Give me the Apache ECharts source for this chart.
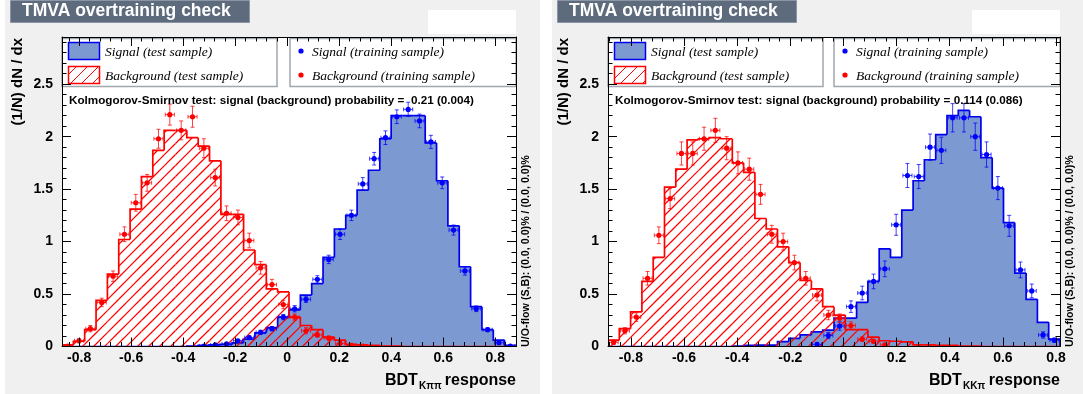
<!DOCTYPE html>
<html><head><meta charset="utf-8">
<script src="https://cdn.jsdelivr.net/npm/echarts@6/dist/echarts.min.js"></script>
<style>html,body{margin:0;padding:0;background:#fff}#c{width:1083px;height:394px}</style>
</head><body><div id="c"></div>
<script>
// ================= DATA =================
const N = null;
const NBINS = 40;
const xRangeL = [-0.866, 0.880];
const xRangeR = [-0.886, 0.815];
const yRange = [0, 2.95];
const xTickLabels = [-0.8, -0.6, -0.4, -0.2, 0, 0.2, 0.4, 0.6, 0.8];
const yTickLabels = [0, 0.5, 1, 1.5, 2, 2.5];
const xMinorStep = 0.04;
const yMinorStep = 0.1;

// Left panel (BDT_Kpipi)
const sigTestL = [0,0,0,0,0,0,0,0,0,0, 0,0.005,0.01,0.015,0.02,0.035,0.07,0.13,0.18,0.28,
  0.35,0.49,0.60,0.85,1.12,1.25,1.49,1.68,1.98,2.20, 2.20,2.20,1.94,1.58,1.15,0.76,0.38,0.16,0.06,0.01];
const bkgTestL = [0.015,0.05,0.16,0.44,0.69,1.02,1.31,1.62,1.87,2.06, 2.06,1.99,1.91,1.77,1.26,1.26,0.92,0.78,0.55,0.52,
  0.28,0.20,0.16,0.09,0.06,0.02,0.015,0.01,0.005,0.003, 0,0,0,0,0,0,0,0,0,0];
const sigTrainL = [N,N,N,N,N,N,N,N,N,N, N,N,0.003,0.015,0.025,0.055,0.085,0.135,0.17,0.28,
  0.36,0.45,0.64,0.83,1.07,1.25,1.55,1.79,1.99,2.19, 2.26,2.15,1.95,1.56,1.11,0.72,0.36,0.16,0.036,0.003];
const sigTrainErrL = [N,N,N,N,N,N,N,N,N,N, N,N,0.005,0.005,0.01,0.01,0.015,0.02,0.02,0.025,
  0.03,0.03,0.035,0.04,0.05,0.05,0.06,0.06,0.065,0.065, 0.068,0.065,0.063,0.056,0.048,0.04,0.027,0.018,0.01,0.005];
const bkgTrainL = [0.005,0.055,0.17,0.42,0.67,1.07,1.37,1.56,1.98,2.21, 2.06,2.19,1.89,1.61,1.27,1.23,1.01,0.75,0.59,0.40,
  0.28,0.15,0.11,0.08,0.03,0.01,0.004,N,N,N, N,N,N,N,N,N,N,N,N,N];
const bkgTrainErrL = [0.005,0.02,0.03,0.04,0.05,0.07,0.08,0.08,0.09,0.10, 0.09,0.10,0.09,0.08,0.07,0.07,0.07,0.06,0.05,0.04,
  0.03,0.03,0.02,0.02,0.01,0.01,0.005,N,N,N, N,N,N,N,N,N,N,N,N,N];

// Right panel (BDT_KKpi)
const sigTestR = [0,0,0,0,0,0,0,0,0,0, 0,0.005,0.012,0.014,0.014,0.046,0.078,0.11,0.14,0.157,
  0.27,0.27,0.42,0.62,0.93,0.85,1.30,1.58,1.78,2.02, 2.20,2.25,2.19,1.80,1.51,1.18,0.70,0.45,0.23,0.07];
const bkgTestR = [0.06,0.17,0.33,0.62,0.85,1.52,1.69,1.97,1.98,1.99, 1.98,1.75,1.66,1.22,1.12,0.95,0.80,0.63,0.55,0.38,
  0.30,0.16,0.16,0.09,0.055,0.05,0.045,0.015,0.015,0.01, 0.01,0.005,0.005,0,0,0,0,0,0,0];
const sigTrainR = [N,N,N,N,N,N,N,N,N,N, N,N,N,N,N,N,N,N,0.02,0.105,
  0.195,0.38,0.51,0.62,0.74,1.16,1.63,1.62,1.90,1.87, 2.18,2.18,2.00,1.83,1.51,1.15,0.73,0.53,0.11,0.06];
const sigTrainErrR = [N,N,N,N,N,N,N,N,N,N, N,N,N,N,N,N,N,N,0.015,0.03,
  0.04,0.055,0.065,0.07,0.075,0.10,0.115,0.115,0.125,0.125, 0.135,0.135,0.13,0.12,0.11,0.10,0.075,0.065,0.03,0.02];
const bkgTrainR = [0.04,0.15,0.28,0.65,1.06,1.41,1.84,1.84,1.98,2.06, 1.89,1.75,1.69,1.45,1.07,1.00,0.80,0.65,0.49,0.30,
  0.27,0.20,0.07,0.05,0.015,N,N,N,N,N, N,N,N,N,N,N,N,N,N,N];
const bkgTrainErrR = [0.02,0.03,0.04,0.065,0.08,0.095,0.11,0.11,0.11,0.115, 0.11,0.105,0.105,0.095,0.085,0.08,0.07,0.065,0.055,0.045,
  0.04,0.035,0.02,0.02,0.01,N,N,N,N,N, N,N,N,N,N,N,N,N,N,N];

const ksTextL = 'Kolmogorov-Smirnov test: signal (background) probability =  0.21 (0.004)';
const ksTextR = 'Kolmogorov-Smirnov test: signal (background) probability = 0.114 (0.086)';
const subL = 'K\u03c0\u03c0';
const subR = 'KK\u03c0';
const titleText = 'TMVA overtraining check';
const yTitle = '(1/N) dN / dx';
const uoText = 'U/O-flow (S,B): (0.0, 0.0)% / (0.0, 0.0)%';
const legendLabels = ['Signal (test sample)', 'Background (test sample)', 'Signal (training sample)', 'Background (training sample)'];

// ================= STYLE =================
const SIG_FILL = '#7d99d1', SIG_LINE = '#0000ee', SIG_MARK = '#0000ff';
const BKG_LINE = '#ff0000', BKG_MARK = '#ff0000';
const SANS = 'Liberation Sans, Arial, sans-serif';
const SERIF = 'Liberation Serif, Times New Roman, serif';
const HATCH = 11; // hatch spacing (px)

function makeHatch() {
  const s = HATCH;
  const c = document.createElement('canvas'); c.width = s; c.height = s;
  const ctx = c.getContext('2d');
  ctx.fillStyle = '#ff0000';
  for (let i = 0; i < s; i++) ctx.fillRect(i, s - 1 - i, 1, 1);
  return c;
}
const hatchPattern = { image: makeHatch(), repeat: 'repeat' };

// diagonal hatch line segments ("/") inside a pixel rectangle, on a global lattice x+y = n*HATCH
function hatchLines(xl, xr, yt, yb) {
  const out = [];
  const c0 = Math.ceil((xl + yt) / HATCH) * HATCH;
  for (let c = c0; c <= xr + yb; c += HATCH) {
    const x1 = Math.max(xl, c - yb), x2 = Math.min(xr, c - yt);
    if (x2 - x1 < 0.3) continue;
    out.push({ type: 'line', shape: { x1: x1, y1: c - x1, x2: x2, y2: c - x2 }, style: { stroke: '#ff0000', lineWidth: 1.25, opacity: 1 } });
  }
  return out;
}

function stepsFrom(min, max, step) {
  const out = [];
  for (let i = Math.ceil(min / step - 1e-9); i <= Math.floor(max / step + 1e-9); i++) out.push(+(i * step).toFixed(4));
  return out;
}

// ================= LAYOUT =================
const panels = [
  { range: xRangeL, left: 62, width: 454, sigTest: sigTestL, bkgTest: bkgTestL, sigTrain: sigTrainL, sigErr: sigTrainErrL, bkgTrain: bkgTrainL, bkgErr: bkgTrainErrL, ks: ksTextL, sub: subL, bg: [5, 535], title: 10 },
  { range: xRangeR, left: 608, width: 452, sigTest: sigTestR, bkgTest: bkgTestR, sigTrain: sigTrainR, sigErr: sigTrainErrR, bkgTrain: bkgTrainR, bkgErr: bkgTrainErrR, ks: ksTextR, sub: subR, bg: [552, 531], title: 557 }
];
const TOP = 37, H = 309.5;

const grid = [], xAxis = [], yAxis = [], series = [], graphic = [];

panels.forEach((p, g) => {
  grid.push({ left: p.left, top: TOP, width: p.width, height: H, show: true, backgroundColor: '#ffffff', borderWidth: 0, z: 0 });
  const xMinor = stepsFrom(p.range[0], p.range[1], xMinorStep);
  const yMinor = stepsFrom(yRange[0], yRange[1], yMinorStep);
  const xa = (pos, vals, len, line, labels) => ({
    type: 'value', gridIndex: g, min: p.range[0], max: p.range[1], position: pos, z: 10,
    axisLine: { show: line, onZero: false, lineStyle: { color: '#000', width: 1 } },
    axisTick: { show: true, inside: true, length: len, customValues: vals, lineStyle: { color: '#000', width: 1 } },
    axisLabel: labels ? { show: true, customValues: xTickLabels, margin: 5, color: '#000', fontFamily: SANS, fontWeight: 'bold', fontSize: 14 } : { show: false },
    splitLine: { show: false }, minorTick: { show: false }
  });
  const ya = (pos, vals, len, line, labels) => ({
    type: 'value', gridIndex: g, min: yRange[0], max: yRange[1], position: pos, z: 10,
    axisLine: { show: line, onZero: false, lineStyle: { color: '#000', width: 1 } },
    axisTick: { show: true, inside: true, length: len, customValues: vals, lineStyle: { color: '#000', width: 1 } },
    axisLabel: labels ? { show: true, customValues: yTickLabels, margin: 9, color: '#000', fontFamily: SANS, fontWeight: 'bold', fontSize: 14 } : { show: false },
    splitLine: { show: false }, minorTick: { show: false }
  });
  xAxis.push(xa('bottom', xTickLabels, 9, true, true), xa('bottom', xMinor, 4.5, false, false),
             xa('top', xTickLabels, 9, true, false), xa('top', xMinor, 4.5, false, false));
  yAxis.push(ya('left', yTickLabels, 9, true, true), ya('left', yMinor, 4.5, false, false),
             ya('right', yTickLabels, 9, true, false), ya('right', yMinor, 4.5, false, false));

  const ax = g * 4;
  const bw = (p.range[1] - p.range[0]) / NBINS;
  const hist = (vals, fill, stroke, z, hatched) => ({
    type: 'custom', xAxisIndex: ax, yAxisIndex: ax, clip: true, z: z, silent: true,
    data: vals.map((v, k) => [k, v, k > 0 ? vals[k - 1] : 0]),
    renderItem: (params, api) => {
      const k = api.value(0), v = api.value(1), vp = api.value(2);
      const x0 = p.range[0] + k * bw, x1 = x0 + bw;
      const a = api.coord([x0, 0]), b = api.coord([x1, v]);
      let children = [];
      if (v > 0) {
        if (hatched) {
          children = children.concat(hatchLines(a[0], b[0], b[1], a[1]));
        } else {
          const xl = Math.floor(a[0]), xr = Math.ceil(b[0]);
          children.push({ type: 'rect', shape: { x: xl, y: b[1], width: xr - xl, height: a[1] - b[1] }, style: { fill: fill, stroke: null } });
        }
      }
      const pts = [api.coord([x0, vp]), api.coord([x0, v]), b];
      if (k === NBINS - 1) pts.push(api.coord([x1, 0]));
      children.push({ type: 'polyline', z2: 5, shape: { points: pts }, style: { stroke: stroke, lineWidth: 1.7, fill: 'none' } });
      return { type: 'group', children };
    }
  });
  const pts = (vals, errs, color, z) => {
    const data = [];
    vals.forEach((v, k) => { if (v !== null) data.push([p.range[0] + (k + 0.5) * bw, v, errs[k]]); });
    return {
      type: 'custom', xAxisIndex: ax, yAxisIndex: ax, clip: true, z: z, silent: true, data,
      renderItem: (params, api) => {
        const x = api.value(0), v = api.value(1), e = api.value(2);
        const c = api.coord([x, v]);
        const t = api.coord([x, v + e])[1], bo = api.coord([x, Math.max(v - e, 0)])[1];
        const l = api.coord([x - 0.4 * bw, v])[0], r = api.coord([x + 0.4 * bw, v])[0];
        const cap = 2;
        const ls = { stroke: color, lineWidth: 1, opacity: 0.75 };
        return { type: 'group', children: [
          { type: 'line', shape: { x1: c[0], y1: t, x2: c[0], y2: bo }, style: ls },
          { type: 'line', shape: { x1: c[0] - cap, y1: t, x2: c[0] + cap, y2: t }, style: ls },
          { type: 'line', shape: { x1: c[0] - cap, y1: bo, x2: c[0] + cap, y2: bo }, style: ls },
          { type: 'line', shape: { x1: l, y1: c[1], x2: r, y2: c[1] }, style: ls },
          { type: 'line', shape: { x1: l, y1: c[1] - cap, x2: l, y2: c[1] + cap }, style: ls },
          { type: 'line', shape: { x1: r, y1: c[1] - cap, x2: r, y2: c[1] + cap }, style: ls },
          { type: 'circle', shape: { cx: c[0], cy: c[1], r: 2.6 }, style: { fill: color } }
        ] };
      }
    };
  };
  series.push(hist(p.sigTest, SIG_FILL, SIG_LINE, 2, false), hist(p.bkgTest, null, BKG_LINE, 3, true),
              pts(p.sigTrain, p.sigErr, SIG_MARK, 4), pts(p.bkgTrain, p.bkgErr, BKG_MARK, 4));

  // ---------- decorations ----------
  const fl = p.left, fr = p.left + p.width;
  const lgFont = 'italic 13.5px ' + SERIF;
  graphic.push(
    { type: 'rect', z: -100, shape: { x: p.bg[0], y: 0, width: p.bg[1], height: 394 }, style: { fill: '#f0f0f0' } },
    { type: 'rect', z: 5, shape: { x: p.title + 0.5, y: 0.5, width: 239, height: 22 }, style: { fill: '#5d6b7d', stroke: '#8a96a6', lineWidth: 1 } },
    { type: 'text', z: 6, style: { x: p.title + 12, y: 11.5, text: titleText, fill: '#fff', font: 'bold 17.5px ' + SANS, textVerticalAlign: 'middle' } },
    { type: 'rect', z: 5, shape: { x: fr - 88, y: 10, width: 88, height: 24 }, style: { fill: '#ffffff' } },
    // legend boxes
    { type: 'rect', z: 5, shape: { x: fl, y: 38.5, width: 215, height: 48 }, style: { fill: '#fff', stroke: '#a0a6ae', lineWidth: 1.5 } },
    { type: 'rect', z: 5, shape: { x: fr - 226, y: 38.5, width: 226, height: 48 }, style: { fill: '#fff', stroke: '#a0a6ae', lineWidth: 1.5 } },
    { type: 'rect', z: 6, shape: { x: fl + 6.5, y: 42.5, width: 31, height: 17 }, style: { fill: SIG_FILL, stroke: SIG_LINE, lineWidth: 1.5 } },
    { type: 'rect', z: 6, shape: { x: fl + 6.5, y: 66.5, width: 31, height: 17 }, style: { fill: hatchPattern, stroke: BKG_LINE, lineWidth: 1.5 } },
    { type: 'text', z: 6, style: { x: fl + 43, y: 52, text: legendLabels[0], fill: '#000', font: lgFont, textVerticalAlign: 'middle' } },
    { type: 'text', z: 6, style: { x: fl + 43, y: 76, text: legendLabels[1], fill: '#000', font: lgFont, textVerticalAlign: 'middle' } },
    { type: 'circle', z: 6, shape: { cx: fr - 215, cy: 51, r: 2.6 }, style: { fill: SIG_MARK } },
    { type: 'circle', z: 6, shape: { cx: fr - 215, cy: 75, r: 2.6 }, style: { fill: BKG_MARK } },
    { type: 'text', z: 6, style: { x: fr - 204, y: 52, text: legendLabels[2], fill: '#000', font: lgFont, textVerticalAlign: 'middle' } },
    { type: 'text', z: 6, style: { x: fr - 204, y: 76, text: legendLabels[3], fill: '#000', font: lgFont, textVerticalAlign: 'middle' } },
    // KS
    { type: 'text', z: 6, style: { x: fl + 7, y: 101, text: p.ks, fill: '#000', font: 'bold 11.7px ' + SANS, textVerticalAlign: 'middle' } },
    // axis titles
    { type: 'text', z: 6, x: fl - 44, y: 38, rotation: Math.PI / 2, style: { x: 0, y: 0, text: yTitle, fill: '#000', font: 'bold 15px ' + SANS, textAlign: 'right', textVerticalAlign: 'middle' } },
    { type: 'text', z: 6, style: { x: fr - 131, y: 381, text: 'BDT', fill: '#000', font: 'bold 16px ' + SANS, textVerticalAlign: 'middle' } },
    { type: 'text', z: 6, style: { x: fr - 97, y: 386, text: p.sub, fill: '#000', font: 'bold 10px ' + SANS, textVerticalAlign: 'middle' } },
    { type: 'text', z: 6, style: { x: fr, y: 381, text: ' response', fill: '#000', font: 'bold 16px ' + SANS, textAlign: 'right', textVerticalAlign: 'middle' } },
    { type: 'text', z: 6, x: fr + 10, y: 347, rotation: Math.PI / 2, style: { x: 0, y: 0, text: uoText, fill: '#000', font: 'bold 10.7px ' + SANS, textAlign: 'left', textVerticalAlign: 'middle' } }
  );
});

const chart = echarts.init(document.getElementById('c'), null, { renderer: 'canvas' });
chart.setOption({ animation: false, backgroundColor: '#ffffff', grid, xAxis, yAxis, series, graphic });
</script></body></html>
